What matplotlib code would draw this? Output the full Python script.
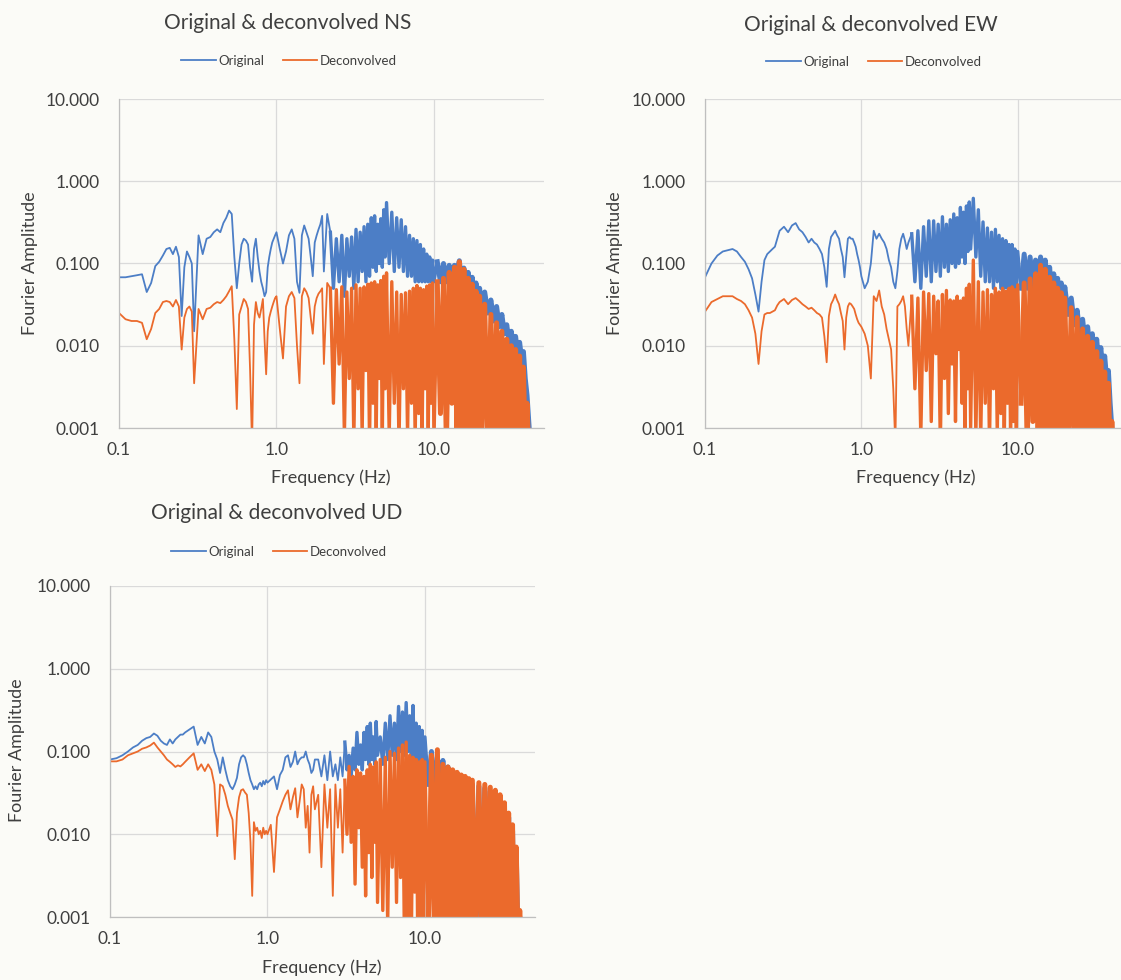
import matplotlib
matplotlib.use("Agg")
import matplotlib.pyplot as plt
from matplotlib.lines import Line2D

# ---------------- data ----------------
freq = [
    0.10, 0.11, 0.12, 0.13, 0.14, 0.15, 0.16, 0.17, 0.18, 0.19, 0.20, 0.21, 0.22, 0.23, 0.24, 0.25, 0.26, 0.27, 0.28, 0.29, 0.30,
    0.32, 0.34, 0.36, 0.38, 0.40, 0.42, 0.44, 0.46, 0.48, 0.50, 0.52, 0.54, 0.56, 0.58, 0.60, 0.62, 0.64, 0.66, 0.68, 0.70,
    0.72, 0.74, 0.76, 0.78, 0.80, 0.82, 0.84, 0.86, 0.88, 0.90, 0.92, 0.94, 0.96, 0.98, 1.00,
    1.05, 1.10, 1.15, 1.20, 1.25, 1.30, 1.35, 1.40, 1.45, 1.50, 1.55, 1.60, 1.65, 1.70, 1.75, 1.80, 1.85, 1.90, 1.95, 2.00,
    2.1, 2.2, 2.3, 2.4, 2.5, 2.6, 2.7, 2.8, 2.9, 3.0, 3.1, 3.2, 3.3, 3.4, 3.5, 3.6, 3.7, 3.8, 3.9, 4.0,
    4.1, 4.2, 4.3, 4.4, 4.5, 4.6, 4.7, 4.8, 4.9, 5.0,
    5.2, 5.4, 5.6, 5.8, 6.0, 6.2, 6.4, 6.6, 6.8, 7.0, 7.2, 7.4, 7.6, 7.8, 8.0, 8.2, 8.4, 8.6, 8.8, 9.0, 9.2, 9.4, 9.6, 9.8, 10.0,
    10.5, 11.0, 11.5, 12.0, 12.5, 13.0, 13.5, 14.0, 14.5, 15.0, 15.5, 16.0, 16.5, 17.0, 17.5, 18.0, 18.5, 19.0, 19.5, 20.0,
    21, 22, 23, 24, 25, 26, 27, 28, 29, 30, 31, 32, 33, 34, 35, 36, 37, 38, 39, 40, 41,
]

ns_original = [
    0.068, 0.068, 0.070, 0.072, 0.074, 0.045, 0.058, 0.093, 0.105, 0.125, 0.15, 0.155, 0.13, 0.16, 0.12, 0.023, 0.09, 0.14, 0.12, 0.10, 0.015,
    0.22, 0.13, 0.20, 0.21, 0.24, 0.26, 0.24, 0.31, 0.36, 0.44, 0.40, 0.12, 0.05, 0.10, 0.17, 0.20, 0.19, 0.17, 0.09, 0.06,
    0.15, 0.20, 0.12, 0.08, 0.06, 0.05, 0.04, 0.045, 0.09, 0.12, 0.15, 0.18, 0.20, 0.22, 0.24,
    0.15, 0.10, 0.14, 0.22, 0.26, 0.20, 0.06, 0.044, 0.22, 0.29, 0.24, 0.20, 0.12, 0.07, 0.18, 0.22, 0.26, 0.30, 0.38, 0.08,
    0.40, 0.24, 0.05, 0.20, 0.06, 0.22, 0.04, 0.20, 0.07, 0.21, 0.05, 0.26, 0.06, 0.24, 0.08, 0.28, 0.06, 0.30, 0.07, 0.36,
    0.09, 0.38, 0.08, 0.30, 0.10, 0.35, 0.09, 0.45, 0.12, 0.55,
    0.10, 0.42, 0.08, 0.36, 0.09, 0.34, 0.08, 0.28, 0.07, 0.22, 0.07, 0.20, 0.06, 0.19, 0.06, 0.17, 0.06, 0.15, 0.06, 0.13, 0.06, 0.12, 0.06, 0.11, 0.06,
    0.105, 0.06, 0.10, 0.06, 0.095, 0.07, 0.095, 0.08, 0.108, 0.06, 0.088, 0.05, 0.078, 0.045, 0.068, 0.04, 0.058, 0.035, 0.05, 0.03,
    0.045, 0.025, 0.036, 0.02, 0.03, 0.017, 0.024, 0.014, 0.018, 0.011, 0.015, 0.009, 0.013, 0.008, 0.011, 0.007, 0.0085, 0.004, 0.0025, 0.0012, 0.0006,
]
ns_deconvolved = [
    0.025, 0.021, 0.020, 0.020, 0.019, 0.012, 0.016, 0.025, 0.028, 0.034, 0.035, 0.034, 0.030, 0.036, 0.030, 0.009, 0.022, 0.028, 0.030, 0.026, 0.0035,
    0.028, 0.021, 0.028, 0.029, 0.032, 0.034, 0.033, 0.036, 0.040, 0.046, 0.053, 0.012, 0.0017, 0.024, 0.030, 0.037, 0.034, 0.028, 0.005, 0.0006,
    0.018, 0.034, 0.025, 0.022, 0.028, 0.037, 0.012, 0.0045, 0.015, 0.022, 0.026, 0.030, 0.034, 0.038, 0.040,
    0.016, 0.007, 0.030, 0.040, 0.045, 0.038, 0.010, 0.0035, 0.040, 0.050, 0.045, 0.038, 0.022, 0.014, 0.030, 0.038, 0.043, 0.046, 0.050, 0.006,
    0.058, 0.050, 0.002, 0.048, 0.006, 0.052, 0.0008, 0.045, 0.004, 0.050, 0.0007, 0.055, 0.003, 0.050, 0.0008, 0.052, 0.005, 0.056, 0.0006, 0.058,
    0.002, 0.060, 0.0009, 0.055, 0.004, 0.062, 0.0007, 0.070, 0.003, 0.077,
    0.0008, 0.060, 0.002, 0.045, 0.0006, 0.042, 0.003, 0.044, 0.0008, 0.046, 0.002, 0.050, 0.0007, 0.054, 0.0015, 0.050, 0.0006, 0.048, 0.003, 0.053, 0.0008, 0.055, 0.002, 0.058, 0.0007,
    0.060, 0.0015, 0.066, 0.0006, 0.078, 0.002, 0.090, 0.0007, 0.105, 0.0005, 0.085, 0.0005, 0.066, 0.0005, 0.056, 0.0005, 0.046, 0.0005, 0.040, 0.0005,
    0.032, 0.0005, 0.024, 0.0005, 0.019, 0.0005, 0.015, 0.0005, 0.012, 0.0005, 0.010, 0.0005, 0.009, 0.0005, 0.0075, 0.0005, 0.0055, 0.0005, 0.002, 0.0005, 0.0005,
]

ew_original = [
    0.068, 0.10, 0.125, 0.14, 0.145, 0.15, 0.14, 0.12, 0.105, 0.085, 0.066, 0.042, 0.026, 0.06, 0.11, 0.13, 0.14, 0.15, 0.16, 0.20, 0.25,
    0.28, 0.24, 0.29, 0.31, 0.26, 0.24, 0.21, 0.18, 0.20, 0.18, 0.17, 0.15, 0.13, 0.09, 0.052, 0.15, 0.21, 0.23, 0.25, 0.22,
    0.20, 0.15, 0.12, 0.068, 0.12, 0.20, 0.21, 0.20, 0.20, 0.18, 0.16, 0.13, 0.11, 0.09, 0.07,
    0.05, 0.06, 0.10, 0.25, 0.20, 0.23, 0.20, 0.18, 0.15, 0.11, 0.09, 0.06, 0.05, 0.08, 0.15, 0.20, 0.23, 0.19, 0.15, 0.18,
    0.23, 0.06, 0.25, 0.05, 0.28, 0.07, 0.33, 0.06, 0.33, 0.08, 0.30, 0.07, 0.37, 0.09, 0.30, 0.08, 0.34, 0.10, 0.40, 0.09,
    0.36, 0.10, 0.48, 0.12, 0.42, 0.10, 0.50, 0.14, 0.56, 0.15,
    0.62, 0.12, 0.45, 0.07, 0.32, 0.06, 0.27, 0.06, 0.24, 0.05, 0.26, 0.06, 0.22, 0.05, 0.20, 0.05, 0.19, 0.05, 0.17, 0.05, 0.17, 0.05, 0.15, 0.05, 0.14,
    0.05, 0.13, 0.05, 0.12, 0.05, 0.11, 0.06, 0.12, 0.07, 0.11, 0.05, 0.09, 0.04, 0.075, 0.035, 0.066, 0.03, 0.058, 0.028, 0.052,
    0.024, 0.038, 0.018, 0.027, 0.013, 0.021, 0.011, 0.017, 0.009, 0.014, 0.007, 0.012, 0.006, 0.0095, 0.005, 0.0075, 0.004, 0.005, 0.002, 0.001, 0.0005,
]
ew_deconvolved = [
    0.026, 0.034, 0.037, 0.040, 0.040, 0.040, 0.037, 0.035, 0.032, 0.027, 0.022, 0.014, 0.006, 0.015, 0.024, 0.025, 0.025, 0.026, 0.027, 0.031, 0.034,
    0.037, 0.032, 0.036, 0.038, 0.035, 0.032, 0.030, 0.028, 0.029, 0.027, 0.025, 0.024, 0.022, 0.013, 0.0063, 0.023, 0.032, 0.036, 0.042, 0.036,
    0.032, 0.025, 0.020, 0.009, 0.022, 0.030, 0.033, 0.032, 0.030, 0.028, 0.024, 0.021, 0.019, 0.018, 0.017,
    0.014, 0.010, 0.004, 0.040, 0.035, 0.047, 0.030, 0.024, 0.016, 0.012, 0.009, 0.003, 0.0006, 0.030, 0.032, 0.035, 0.040, 0.030, 0.016, 0.010,
    0.040, 0.003, 0.038, 0.0008, 0.045, 0.005, 0.043, 0.0012, 0.040, 0.008, 0.035, 0.0006, 0.042, 0.004, 0.047, 0.0015, 0.036, 0.006, 0.035, 0.0012,
    0.040, 0.009, 0.035, 0.002, 0.038, 0.0006, 0.050, 0.003, 0.056, 0.001,
    0.110, 0.0008, 0.060, 0.0007, 0.045, 0.002, 0.048, 0.0006, 0.042, 0.003, 0.050, 0.0008, 0.045, 0.0015, 0.050, 0.0006, 0.046, 0.002, 0.050, 0.0008, 0.052, 0.0012, 0.048, 0.0007, 0.055,
    0.002, 0.058, 0.0006, 0.065, 0.0012, 0.075, 0.0006, 0.095, 0.0005, 0.085, 0.0005, 0.068, 0.0005, 0.058, 0.0005, 0.050, 0.0005, 0.044, 0.0005, 0.038,
    0.0005, 0.029, 0.0005, 0.022, 0.0005, 0.016, 0.0005, 0.013, 0.0005, 0.011, 0.0005, 0.0085, 0.0005, 0.0065, 0.0005, 0.0048, 0.0005, 0.0035, 0.0005, 0.0012, 0.0005,
]

ud_original = [
    0.080, 0.083, 0.090, 0.100, 0.112, 0.120, 0.135, 0.145, 0.150, 0.165, 0.155, 0.135, 0.125, 0.120, 0.140, 0.125, 0.140, 0.150, 0.160, 0.160, 0.170,
    0.185, 0.200, 0.120, 0.150, 0.125, 0.170, 0.150, 0.100, 0.080, 0.055, 0.085, 0.060, 0.045, 0.038, 0.035, 0.040, 0.048, 0.070, 0.085, 0.090,
    0.085, 0.070, 0.055, 0.045, 0.040, 0.035, 0.038, 0.035, 0.040, 0.042, 0.038, 0.044, 0.040, 0.045, 0.042,
    0.046, 0.050, 0.035, 0.052, 0.060, 0.085, 0.090, 0.065, 0.075, 0.100, 0.070, 0.080, 0.085, 0.085, 0.100, 0.080, 0.070, 0.055, 0.060, 0.080,
    0.080, 0.050, 0.090, 0.045, 0.100, 0.050, 0.070, 0.045, 0.085, 0.050, 0.130, 0.060, 0.090, 0.050, 0.110, 0.060, 0.170, 0.070, 0.120, 0.060,
    0.170, 0.080, 0.200, 0.070, 0.220, 0.080, 0.150, 0.070, 0.230, 0.090,
    0.150, 0.070, 0.220, 0.080, 0.270, 0.090, 0.220, 0.080, 0.350, 0.100, 0.300, 0.090, 0.390, 0.100, 0.270, 0.080, 0.360, 0.070, 0.220, 0.060, 0.200, 0.050, 0.180, 0.040, 0.150,
    0.040, 0.100, 0.030, 0.085, 0.020, 0.078, 0.015, 0.065, 0.010, 0.057, 0.005, 0.048, 0.004, 0.042, 0.0005, 0.045, 0.0005, 0.042, 0.0005, 0.040,
    0.0005, 0.038, 0.0005, 0.036, 0.0005, 0.033, 0.0005, 0.030, 0.0005, 0.027, 0.0005, 0.021, 0.0005, 0.016, 0.0005, 0.011, 0.0005, 0.006, 0.0005, 0.001, 0.0005,
]
ud_deconvolved = [
    0.076, 0.076, 0.080, 0.090, 0.095, 0.100, 0.108, 0.112, 0.118, 0.128, 0.112, 0.100, 0.090, 0.080, 0.075, 0.070, 0.065, 0.068, 0.066, 0.070, 0.075,
    0.085, 0.095, 0.060, 0.070, 0.058, 0.070, 0.060, 0.040, 0.0095, 0.040, 0.038, 0.030, 0.022, 0.018, 0.015, 0.005, 0.018, 0.028, 0.034, 0.035,
    0.032, 0.030, 0.018, 0.008, 0.0018, 0.014, 0.011, 0.012, 0.010, 0.011, 0.009, 0.012, 0.010, 0.011, 0.010,
    0.013, 0.0035, 0.016, 0.020, 0.025, 0.030, 0.034, 0.020, 0.028, 0.036, 0.016, 0.025, 0.040, 0.035, 0.012, 0.022, 0.006, 0.030, 0.038, 0.020,
    0.030, 0.004, 0.040, 0.012, 0.035, 0.0018, 0.040, 0.012, 0.035, 0.006, 0.045, 0.010, 0.066, 0.008, 0.050, 0.0025, 0.060, 0.012, 0.055, 0.004,
    0.050, 0.0018, 0.060, 0.006, 0.070, 0.003, 0.065, 0.008, 0.075, 0.0015,
    0.080, 0.0012, 0.085, 0.0008, 0.100, 0.004, 0.095, 0.0015, 0.110, 0.003, 0.120, 0.0006, 0.130, 0.0005, 0.090, 0.0005, 0.085, 0.002, 0.080, 0.0005, 0.075, 0.001, 0.080, 0.0005, 0.075,
    0.0008, 0.090, 0.0005, 0.105, 0.0005, 0.070, 0.0005, 0.065, 0.0005, 0.060, 0.0005, 0.056, 0.0005, 0.052, 0.0005, 0.050, 0.0005, 0.047, 0.0005, 0.045,
    0.0005, 0.042, 0.0005, 0.040, 0.0005, 0.037, 0.0005, 0.034, 0.0005, 0.030, 0.0005, 0.024, 0.0005, 0.018, 0.0005, 0.013, 0.0005, 0.007, 0.0005, 0.0012, 0.0005,
]

titles = ["Original & deconvolved NS", "Original & deconvolved EW", "Original & deconvolved UD"]
series_names = ["Original", "Deconvolved"]
x_ticks = [0.1, 1.0, 10.0]
x_tick_labels = ["0.1", "1.0", "10.0"]
y_ticks = [0.001, 0.01, 0.1, 1.0, 10.0]
y_tick_labels = ["0.001", "0.010", "0.100", "1.000", "10.000"]
x_label = "Frequency (Hz)"
y_label = "Fourier Amplitude"

# ---------------- layout / style ----------------
plt.rcParams["font.family"] = ["Lato", "DejaVu Sans"]
W, H = 1121, 980
BG = "#FBFBF7"
BLUE = "#4C7EC6"
ORANGE = "#EB6A2C"
TXT = "#3F3F3F"
GRID = "#DADADA"

fig = plt.figure(figsize=(W / 100, H / 100), dpi=100)
fig.patch.set_facecolor(BG)

panels = [
    dict(box=(119, 99, 544, 428), orig=ns_original, dec=ns_deconvolved, title=titles[0], dense_from=2.15,
         title_xy=(288, 23), legend_xy=(289, 61), xlabel_xy=(331, 478), ylabel_xy=(30, 263)),
    dict(box=(705, 99, 1127, 428), orig=ew_original, dec=ew_deconvolved, title=titles[1], dense_from=2.05,
         title_xy=(871, 25), legend_xy=(874, 62), xlabel_xy=(916, 478), ylabel_xy=(615, 263)),
    dict(box=(110, 586, 535, 917), orig=ud_original, dec=ud_deconvolved, title=titles[2], dense_from=3.05,
         title_xy=(277, 513), legend_xy=(279, 552), xlabel_xy=(322, 968), ylabel_xy=(17, 750)),
]
# line widths for the sparse part, the dense band and the very dense high-frequency band
LW_THIN, LW_DENSE, LW_HF, HF_FROM = 1.3, 2.4, 3.6, 10.25


def fx(px):
    return px / W


def fy(py):
    return 1 - py / H


def part_from(f, a, start):
    pairs = [(fi, ai) for fi, ai in zip(f, a) if fi >= start]
    return [q[0] for q in pairs], [q[1] for q in pairs]


for p in panels:
    l, t, r, b = p["box"]
    ax = fig.add_axes([fx(l), fy(b), (r - l) / W, (b - t) / H])
    ax.set_facecolor("none")
    ax.set_xscale("log")
    ax.set_yscale("log")
    for series, col in ((p["orig"], BLUE), (p["dec"], ORANGE)):
        ax.plot(freq, series, color=col, lw=LW_THIN, solid_joinstyle="round")
        df, da = part_from(freq, series, p["dense_from"])
        ax.plot(df, da, color=col, lw=LW_DENSE, solid_joinstyle="round")
        hf, ha_ = part_from(freq, series, HF_FROM)
        ax.plot(hf, ha_, color=col, lw=LW_HF, solid_joinstyle="round")
    ax.set_xlim(0.1, 50)
    ax.set_ylim(0.001, 10)
    ax.set_xticks(x_ticks)
    ax.set_xticklabels(x_tick_labels)
    ax.set_yticks(y_ticks)
    ax.set_yticklabels(y_tick_labels)
    ax.minorticks_off()
    ax.grid(True, color=GRID, lw=0.9)
    ax.set_axisbelow(True)
    for s in ("top", "right"):
        ax.spines[s].set_visible(False)
    for s in ("left", "bottom"):
        ax.spines[s].set_color("#BFBFBF")
        ax.spines[s].set_linewidth(0.9)
    ax.tick_params(axis="both", length=0, labelsize=12.5, colors=TXT)
    ax.tick_params(axis="y", pad=14)
    ax.tick_params(axis="x", pad=10)

    fig.text(fx(p["title_xy"][0]), fy(p["title_xy"][1]), p["title"], ha="center", va="center",
             fontsize=15, color=TXT)
    fig.text(fx(p["xlabel_xy"][0]), fy(p["xlabel_xy"][1]), x_label, ha="center", va="center",
             fontsize=13, color=TXT)
    fig.text(fx(p["ylabel_xy"][0]), fy(p["ylabel_xy"][1]), y_label, ha="center", va="center",
             rotation=90, fontsize=13, color=TXT)
    handles = [Line2D([], [], color=BLUE, lw=1.3), Line2D([], [], color=ORANGE, lw=1.3)]
    fig.legend(handles, series_names, loc="center", ncol=2, frameon=False,
               bbox_to_anchor=(fx(p["legend_xy"][0]), fy(p["legend_xy"][1])),
               fontsize=9.5, labelcolor=TXT, handlelength=2.6, handletextpad=0.2, columnspacing=1.4)

fig.savefig("out.png", dpi=100, facecolor=BG)
